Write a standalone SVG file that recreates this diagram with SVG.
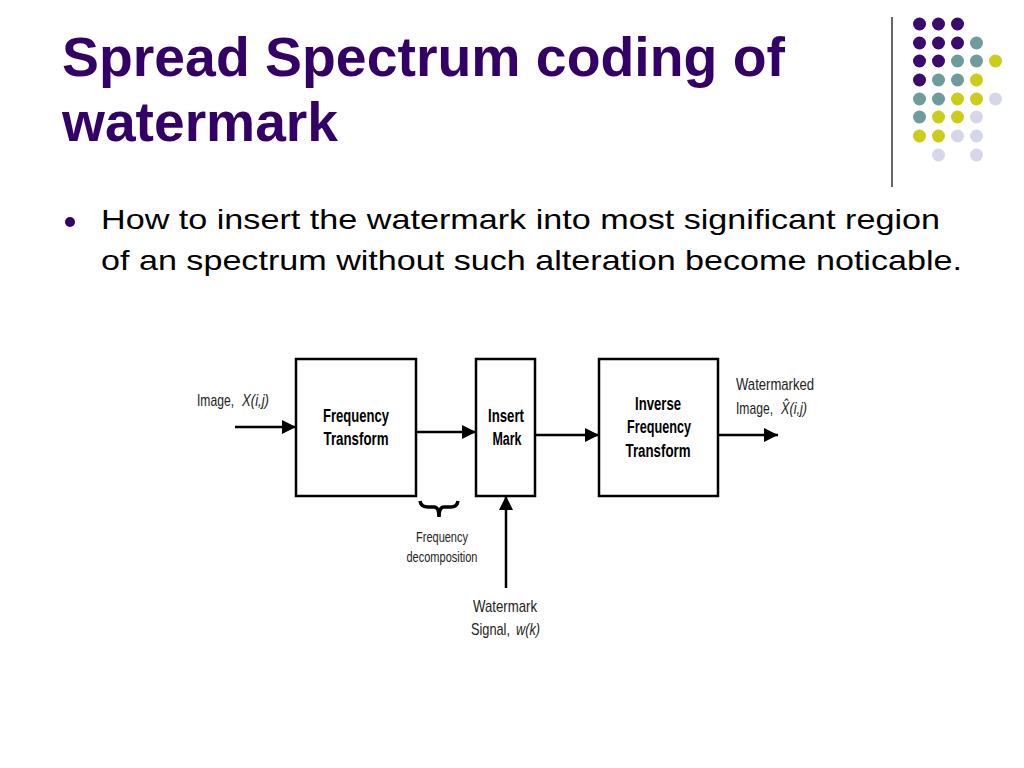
<svg xmlns="http://www.w3.org/2000/svg" width="1024" height="768" viewBox="0 0 1024 768">
<defs>
<style>
.title{font-family:"Liberation Sans",Arial,sans-serif;font-weight:bold;font-size:55px;fill:#330066}
.body{font-family:"Liberation Sans",Arial,sans-serif;font-size:28px;fill:#000}
.box{fill:#fff;stroke:#000;stroke-width:2.5}
.bl{font-family:"Liberation Sans Narrow","Arial Narrow","Liberation Sans",sans-serif;font-weight:bold;font-size:18px;fill:#000;text-anchor:middle}
.lb{font-family:"Liberation Sans Narrow","Arial Narrow","Liberation Sans",sans-serif;font-size:17px;fill:#222}
.it{font-style:italic}
.sm{font-family:"Liberation Sans Narrow","Arial Narrow","Liberation Sans",sans-serif;font-size:14px;fill:#222;text-anchor:middle}
.conn{stroke:#000;stroke-width:2.5;fill:none}
.p{fill:#3a0a6c}.t{fill:#6e9c9c}.y{fill:#cccc1a}.l{fill:#d6d6ea}
</style>
<marker id="ah" markerUnits="userSpaceOnUse" markerWidth="15" markerHeight="15" refX="14" refY="7" orient="auto">
<path d="M0,0 L14,7 L0,14 Z" fill="#000"/>
</marker>
</defs>
<rect width="1024" height="768" fill="#fff"/>

<g id="title">
<text class="title" x="62" y="76" textLength="723" lengthAdjust="spacingAndGlyphs">Spread Spectrum coding of</text>
<text class="title" x="62" y="141" textLength="276" lengthAdjust="spacingAndGlyphs">watermark</text>
</g>

<g id="decor">
<line x1="892" y1="17" x2="892" y2="187" stroke="#333" stroke-width="1.5"/>
<circle class="p" cx="919.5" cy="24" r="6.5"/><circle class="p" cx="938.5" cy="24" r="6.5"/><circle class="p" cx="957.5" cy="24" r="6.5"/>
<circle class="p" cx="919.5" cy="43" r="6.5"/><circle class="p" cx="938.5" cy="43" r="6.5"/><circle class="p" cx="957.5" cy="43" r="6.5"/><circle class="t" cx="976.5" cy="43" r="6.5"/>
<circle class="p" cx="919.5" cy="61" r="6.5"/><circle class="p" cx="938.5" cy="61" r="6.5"/><circle class="t" cx="957.5" cy="61" r="6.5"/><circle class="t" cx="976.5" cy="61" r="6.5"/><circle class="y" cx="995.5" cy="61" r="6.5"/>
<circle class="p" cx="919.5" cy="80" r="6.5"/><circle class="t" cx="938.5" cy="80" r="6.5"/><circle class="t" cx="957.5" cy="80" r="6.5"/><circle class="y" cx="976.5" cy="80" r="6.5"/>
<circle class="t" cx="919.5" cy="99" r="6.5"/><circle class="t" cx="938.5" cy="99" r="6.5"/><circle class="y" cx="957.5" cy="99" r="6.5"/><circle class="y" cx="976.5" cy="99" r="6.5"/><circle class="l" cx="995.5" cy="99" r="6.5"/>
<circle class="t" cx="919.5" cy="117" r="6.5"/><circle class="y" cx="938.5" cy="117" r="6.5"/><circle class="y" cx="957.5" cy="117" r="6.5"/><circle class="l" cx="976.5" cy="117" r="6.5"/>
<circle class="y" cx="919.5" cy="136" r="6.5"/><circle class="y" cx="938.5" cy="136" r="6.5"/><circle class="l" cx="957.5" cy="136" r="6.5"/><circle class="l" cx="976.5" cy="136" r="6.5"/>
<circle class="l" cx="938.5" cy="155" r="6.5"/><circle class="l" cx="976.5" cy="155" r="6.5"/>
</g>

<g id="bullet">
<circle cx="70" cy="222" r="5" fill="#330066"/>
<text class="body" x="101" y="229" textLength="839" lengthAdjust="spacingAndGlyphs">How to insert the watermark into most significant region</text>
<text class="body" x="101" y="270" textLength="861" lengthAdjust="spacingAndGlyphs">of an spectrum without such alteration become noticable.</text>
</g>

<g id="connectors">
<line class="conn" x1="235" y1="427" x2="296" y2="427" marker-end="url(#ah)"/>
<line class="conn" x1="416" y1="432" x2="476" y2="432" marker-end="url(#ah)"/>
<line class="conn" x1="535" y1="435" x2="599" y2="435" marker-end="url(#ah)"/>
<line class="conn" x1="718" y1="435" x2="778" y2="435" marker-end="url(#ah)"/>
<line class="conn" x1="506" y1="588" x2="506" y2="496" marker-end="url(#ah)"/>
</g>

<g id="node-frequency-transform">
<rect class="box" x="296" y="359" width="120" height="137"/>
<text class="bl" x="356" y="422" textLength="66" lengthAdjust="spacingAndGlyphs">Frequency</text>
<text class="bl" x="356" y="445" textLength="65" lengthAdjust="spacingAndGlyphs">Transform</text>
</g>

<g id="node-insert-mark">
<rect class="box" x="476" y="359" width="59" height="137"/>
<text class="bl" x="506" y="422" textLength="36" lengthAdjust="spacingAndGlyphs">Insert</text>
<text class="bl" x="507" y="445" textLength="29" lengthAdjust="spacingAndGlyphs">Mark</text>
</g>

<g id="node-inverse">
<rect class="box" x="599" y="359" width="119" height="137"/>
<text class="bl" x="658" y="410" textLength="46" lengthAdjust="spacingAndGlyphs">Inverse</text>
<text class="bl" x="659" y="433" textLength="64" lengthAdjust="spacingAndGlyphs">Frequency</text>
<text class="bl" x="658" y="457" textLength="65" lengthAdjust="spacingAndGlyphs">Transform</text>
</g>

<g id="labels">
<text class="lb" x="197" y="406" textLength="37" lengthAdjust="spacingAndGlyphs">Image,</text>
<text class="lb it" x="242" y="406" textLength="27" lengthAdjust="spacingAndGlyphs">X(i,j)</text>
<text class="lb" x="736" y="390" textLength="78" lengthAdjust="spacingAndGlyphs">Watermarked</text>
<text class="lb" x="736" y="414" textLength="37" lengthAdjust="spacingAndGlyphs">Image,</text>
<text class="lb it" x="781" y="414" textLength="26" lengthAdjust="spacingAndGlyphs">X̂(i,j)</text>
<text class="sm" x="442" y="542" textLength="52" lengthAdjust="spacingAndGlyphs">Frequency</text>
<text class="sm" x="442" y="562" textLength="71" lengthAdjust="spacingAndGlyphs">decomposition</text>
<text class="lb" x="505" y="612" text-anchor="middle" textLength="64" lengthAdjust="spacingAndGlyphs">Watermark</text>
<text class="lb" x="471" y="635" textLength="39" lengthAdjust="spacingAndGlyphs">Signal,</text>
<text class="lb it" x="516" y="635" textLength="24" lengthAdjust="spacingAndGlyphs">w(k)</text>
<path d="M420,501 Q421,507 428,507 L434,507 Q439,507 439,517 Q439,507 444,507 L451,507 Q457,507 458,501" fill="none" stroke="#000" stroke-width="3.5"/>
</g>
</svg>
